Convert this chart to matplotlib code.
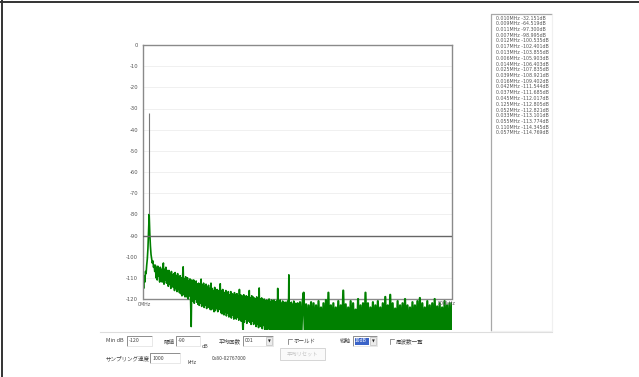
import numpy as np
import matplotlib
matplotlib.use("Agg")
import matplotlib.pyplot as plt
from matplotlib.patches import Rectangle

plt.rcParams['font.family'] = ['Noto Sans CJK JP', 'DejaVu Sans']

W, H = 639, 377

# ---- spectrum data (dB) ----
# 0.000-0.249 MHz at 1 kHz bins
low_band_step_mhz = 0.001
low_band_db = [
    -110, -115, -109, -112, -107, -108, -104, -101, -96, -88,
    -80, -89, -95, -99, -101, -103, -102, -105, -104, -107,
    -104, -110, -105, -111, -104.5, -109, -106, -112, -105, -110,
    -106, -112, -105.5, -103, -113, -106, -111, -105, -112.5, -106.5,
    -107, -114, -106.5, -113, -108, -115, -107, -113.5, -108.5, -114.5,
    -108, -116, -107.5, -115, -109, -116.5, -108, -115.5, -109.5, -117,
    -109, -117.5, -110, -118.5, -109.5, -104.8, -118, -110.5, -119, -109.5,
    -111, -119, -110, -120, -111.5, -118.5, -110.5, -120.5, -133, -111,
    -112, -121, -111, -122, -112.5, -120, -111.5, -121.5, -113, -122.5,
    -112.5, -123, -113, -122, -110.6, -123.5, -113.5, -122, -112.5, -124,
    -114, -123, -113, -124.5, -114.5, -122.5, -113.5, -124, -115, -125,
    -112.5, -125, -115, -124, -116, -126, -114.5, -125.5, -116, -124.5,
    -115.5, -126, -116, -125, -117, -112.8, -126.5, -116, -127, -115.5,
    -116.5, -127.5, -117, -126, -116, -128, -117.5, -126.5, -116.5, -128.5,
    -118, -128, -116.5, -129, -117.5, -127.5, -118, -129.5, -117, -128,
    -118, -129.5, -117.5, -128.5, -118.5, -130, -115.5, -129, -118, -130.5,
    -118.5, -130, -138, -118, -131, -119, -129.5, -118.5, -131.5, -119,
    -130.5, -118.5, -116, -131, -119.5, -132, -118.5, -130.5, -119, -132,
    -119.5, -131.5, -120, -133, -119, -132, -120.5, -133.5, -114.8, -132.5,
    -120, -133, -119.5, -134, -120.5, -132.5, -120, -134.5, -121, -133,
    -120.5, -135, -121, -134, -120, -136, -121.5, -134.5, -120.5, -135.5,
    -121, -136, -120.5, -135, -121.5, -137, -121, -135.5, -115, -136.5,
    -121.5, -137, -120.5, -138, -122, -136, -121, -138.5, -122, -137,
    -121.5, -138, -122, -137.5, -121, -139, -108.6, -138, -122, -139.5,
    -121.5, -139, -122.5, -138, -121, -140, -122, -139, -122.5, -140,
]
# 0.250-0.500 MHz at 2 kHz bins
high_band_start_mhz = 0.250
high_band_step_mhz = 0.002
high_band_db = [
    -122, -139, -121.5, -140, -122,
    -117, -139, -122.5, -140, -123, -138, -121.5, -140, -122, -139,
    -123, -141, -121, -139, -124, -140, -122, -142, -120.5, -140,
    -117, -141, -123, -139, -122, -142, -124, -140, -121, -141,
    -123, -139, -116, -141, -122.5, -140, -124, -142, -121, -139,
    -122, -141, -125, -140, -120, -142, -123, -139, -122, -141,
    -117, -140, -122, -142, -124, -139, -121.5, -141, -123, -140,
    -121, -142, -124, -140, -122, -141, -119, -139, -123, -142,
    -118, -140, -122, -141, -124.5, -139, -121, -142, -123, -140,
    -122, -141, -120, -139, -123, -142, -124, -140, -121.5, -141,
    -123, -139, -121, -141, -119.5, -140, -122, -142, -124, -139,
    -121, -141, -123, -140, -122, -142, -120, -139, -123.5, -141,
    -122, -140, -124, -141, -121, -139, -123, -142, -122, -140,
    -122,
]
low_freq_mhz = np.arange(len(low_band_db)) * low_band_step_mhz
high_freq_mhz = high_band_start_mhz + np.arange(len(high_band_db)) * high_band_step_mhz

# strongest line of the raw spectrum
peak_freq_mhz = 0.010
peak_level_db = -32.151
peak_base_db = -80

threshold_db = -90
min_db = -120
y_ticks = list(range(0, -121, -10))
x_range_mhz = (0.0, 0.5)
x_edge_labels = ["0MHz", "500kHz"]

# frequency list (sorted by level)
list_freqs = ["0.010", "0.009", "0.011", "0.007", "0.012", "0.017", "0.013",
              "0.006", "0.014", "0.025", "0.039", "0.016", "0.042", "0.037",
              "0.045", "0.125", "0.052", "0.033", "0.055", "0.110", "0.057"]
list_levels = [-32.151, -64.519, -97.300, -98.995, -100.535, -102.401,
               -103.855, -105.903, -106.403, -107.835, -108.921, -109.402,
               -111.544, -111.685, -112.017, -112.805, -112.821, -113.101,
               -113.774, -114.345, -114.769]

fig = plt.figure(figsize=(W / 100, H / 100), dpi=100)
fig.patch.set_facecolor('white')

# ---- window overlay in pixel coordinates ----
ui = fig.add_axes([0, 0, 1, 1], zorder=0)
ui.set_xlim(0, W)
ui.set_ylim(H, 0)
ui.axis('off')


def box(x0, y0, x1, y1, face='white', dark='#7c7c7c', light='#e4e4e4', lw=0.6):
    ui.add_patch(Rectangle((x0, y0), x1 - x0, y1 - y0, facecolor=face,
                           edgecolor='none'))
    ui.plot([x0, x0, x1], [y1, y0, y0], color=dark, lw=lw,
            solid_capstyle='butt')
    ui.plot([x0, x1, x1], [y1, y1, y0], color=light, lw=lw,
            solid_capstyle='butt')


def label(x, y, s, size=4.0, color='#444444', ha='left'):
    ui.text(x, y, s, fontsize=size, color=color, va='center', ha=ha)


def combo(x0, y0, x1, y1):
    box(x0, y0, x1, y1)
    ui.add_patch(Rectangle((x1 - 7, y0 + 1), 6, y1 - y0 - 2,
                           facecolor='#ececec', edgecolor='#b0b0b0', lw=0.4))
    ui.text(x1 - 4, (y0 + y1) / 2 + 0.3, '▼', fontsize=2.6, color='#222222',
            ha='center', va='center', family='DejaVu Sans')


def checkbox(x, y):
    ui.plot([x, x, x + 4], [y + 2.5, y - 2, y - 2], color='#666666', lw=0.5)


# outer frame
ui.plot([0, W], [2, 2], color='#333333', lw=1.4)
ui.plot([2, 2], [0, H], color='#333333', lw=1.4)

# separator under the graph
ui.plot([100, 552], [332, 332], color='#dddddd', lw=0.8)

# frequency list box
box(491, 14, 552, 331, dark='#a8a8a8', light='#f0f0f0', lw=0.9)
for i, (f, lv) in enumerate(zip(list_freqs, list_levels)):
    ui.text(496, 18 + i * 5.75, f"{f}MHz {lv:.3f}dB", fontsize=3.4,
            color='#555555', va='center', ha='left', family='DejaVu Sans')

# first control row
row1 = 341
label(106, row1, "Min dB")
box(127, 336, 152, 346)
label(129, row1, str(min_db), size=3.8)
label(164, row1, "閾値")
box(176, 336, 200, 346)
label(178, row1, str(threshold_db), size=3.8)
label(202, 346, "dB", size=3.8)
label(219, row1, "平均回数")
combo(243, 336, 273, 346)
label(245, row1, "001", size=3.8)
checkbox(288, row1)
label(294, row1, "ホールド")
label(340, row1, "縦軸")
combo(353, 336, 377, 346)
ui.add_patch(Rectangle((354.5, 337.5), 14.5, 7, facecolor='#3a63c8',
                       edgecolor='none'))
label(355, row1, "10dB", size=3.6, color='white')
checkbox(390, row1)
label(396, row1, "周波数一覧")

# second control row
row2 = 358
label(106, row2, "サンプリング速度")
box(150, 353, 180, 363)
label(152, row2, "1000", size=3.8)
label(188, 362, "kHz", size=3.8)
label(212, row2, "0x80-02767000", size=3.6)
ui.add_patch(Rectangle((280, 348), 45, 12, facecolor='#fafafa',
                       edgecolor='#cfcfcf', lw=0.6))
label(302.5, 354, "平均リセット", size=3.8, color='#c4c4c4', ha='center')

# ---- spectrum graph ----
ax_bottom_px, ax_top_px = 330, 45
ax = fig.add_axes([143 / W, 1 - ax_bottom_px / H, 309 / W,
                   (ax_bottom_px - ax_top_px) / H], zorder=1)
px_per_db = (299 - 45) / 120.0
ax.set_ylim(min_db - (ax_bottom_px - 299) / px_per_db, 0)
ax.set_xlim(*x_range_mhz)

ax.set_yticks(y_ticks)
ax.set_yticklabels([str(v) for v in y_ticks], fontsize=3.8, color='#555555',
                   family='DejaVu Sans')
ax.set_xticks([])
ax.tick_params(axis='y', length=0, pad=3.5)

for t in y_ticks[1:-1]:
    ax.axhline(t, color='#eeeeee', lw=0.6, zorder=0)

frame_color = '#8a8a8a'
ax.spines['bottom'].set_visible(False)
for side in ('left', 'right'):
    ax.spines[side].set_bounds(min_db, 0)
    ax.spines[side].set_color(frame_color)
    ax.spines[side].set_linewidth(1.0)
ax.spines['top'].set_color(frame_color)
ax.spines['top'].set_linewidth(1.0)
ax.axhline(min_db, color=frame_color, lw=1.0, zorder=1)

green = '#008000'
ax.plot(low_freq_mhz, low_band_db, color=green, lw=1.2, zorder=2)
ax.plot(np.r_[low_freq_mhz[-1], high_freq_mhz],
        np.r_[low_band_db[-1], high_band_db], color=green, lw=1.6, zorder=2)
ax.vlines(peak_freq_mhz, peak_base_db, peak_level_db, color='#7a7a7a',
          lw=0.8, zorder=2)
ax.axhline(threshold_db, color='#666666', lw=1.0, zorder=3)

ax.text(x_range_mhz[0] + 0.002, min_db - 2.5, x_edge_labels[0], fontsize=3.4,
        color='#555555', ha='center', va='center', zorder=4,
        family='DejaVu Sans')
ax.text(x_range_mhz[1] - 0.008, min_db - 2.2, x_edge_labels[1], fontsize=3.4,
        color='#555555', ha='center', va='center', zorder=4,
        family='DejaVu Sans')

fig.savefig('out.png', dpi=100, facecolor='white')
